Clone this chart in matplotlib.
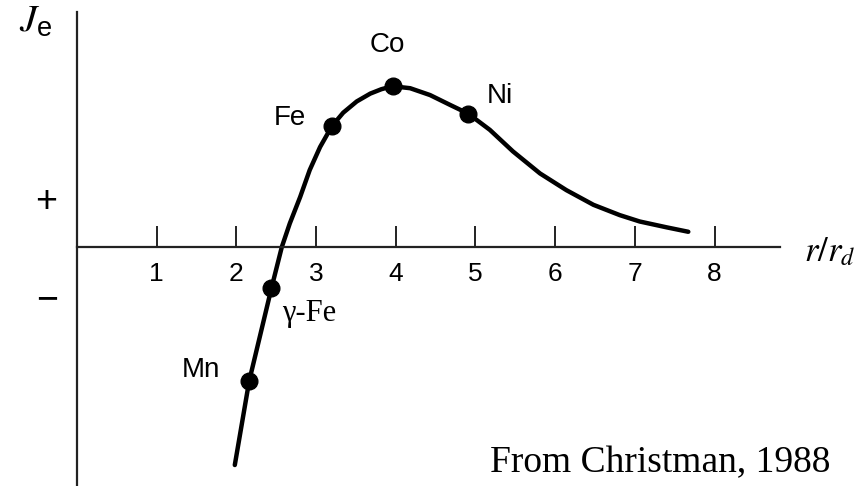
import numpy as np
import matplotlib
matplotlib.use("Agg")
import matplotlib.pyplot as plt

# Bethe-Slater curve: exchange integral vs. r / r_d
curve_r = [1.98, 2.16, 2.44, 2.57, 2.67, 2.80, 2.92, 3.05, 3.20, 3.34, 3.51,
           3.68, 3.82, 3.96, 4.18, 4.43, 4.68, 4.91, 5.18, 5.47, 5.81, 6.14,
           6.48, 6.81, 7.06, 7.40, 7.67]
curve_j = [-4.45, -2.74, -0.84, 0.0, 0.48, 1.02, 1.57, 2.04, 2.47, 2.74, 2.97,
           3.13, 3.22, 3.28, 3.24, 3.10, 2.90, 2.72, 2.39, 1.95, 1.50, 1.16,
           0.86, 0.65, 0.52, 0.40, 0.31]

elements = ["Mn", "γ-Fe", "Fe", "Co", "Ni"]
elem_r = [2.16, 2.44, 3.20, 3.96, 4.91]
elem_j = [-2.74, -0.84, 2.47, 3.28, 2.72]
# label offsets in points
elem_offsets = [(-35, 8), (27, -18), (-30, 6), (-4, 30), (23, 13)]

x_ticks = [1, 2, 3, 4, 5, 6, 7, 8]
y_ticks = [-1, 1]
y_ticklabels = ["\u2212", "+"]

plt.rcParams["font.family"] = ["Liberation Sans", "DejaVu Sans"]
plt.rcParams["mathtext.fontset"] = "stix"

fig = plt.figure(figsize=(8.63, 4.86), dpi=100)
ax = fig.add_axes([0, 0, 1, 1])
ax.set_xlim(-0.966, 9.862)
ax.set_ylim(-4.878, 5.04)

axis_color = "#222222"
for side in ["top", "right"]:
    ax.spines[side].set_visible(False)
ax.spines["left"].set_position(("data", 0))
ax.spines["bottom"].set_position(("data", 0))
ax.spines["left"].set_bounds(-4.9, 4.8)
ax.spines["bottom"].set_bounds(0, 8.82)
for side in ["left", "bottom"]:
    ax.spines[side].set_linewidth(1.6)
    ax.spines[side].set_color(axis_color)

ax.set_xticks(x_ticks)
ax.set_xticklabels([str(t) for t in x_ticks])
ax.tick_params(axis="x", direction="in", length=15, width=1.4, color=axis_color,
               pad=11, labelsize=19)
ax.set_yticks(y_ticks)
ax.set_yticklabels(y_ticklabels)
ax.tick_params(axis="y", length=0, pad=14, labelsize=27)

ax.plot(curve_r, curve_j, color="black", lw=3.2, solid_capstyle="round",
        solid_joinstyle="round")
ax.plot(elem_r, elem_j, "o", color="black", ms=12)

for name, r, j, off in zip(elements, elem_r, elem_j, elem_offsets):
    if name == "γ-Fe":
        ax.annotate(name, (r, j), xytext=off, textcoords="offset points",
                    ha="center", va="center", fontsize=22,
                    family=["Liberation Serif"])
    else:
        ax.annotate(name, (r, j), xytext=off, textcoords="offset points",
                    ha="center", va="center", fontsize=20)

ax.text(-0.52, 4.6, r"$J_{\mathregular{e}}$", fontsize=28, ha="center", va="center")
ax.text(9.45, -0.1, r"$r/r_d$", fontsize=25, ha="center", va="center")
ax.text(7.315, -4.41, "From Christman, 1988", fontsize=27, ha="center",
        va="center", family=["Liberation Serif"])

fig.savefig("out.png", dpi=100)
